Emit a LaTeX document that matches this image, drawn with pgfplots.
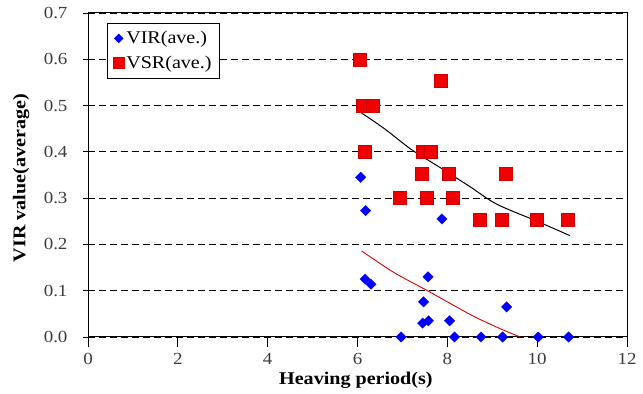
\documentclass[border=0pt]{standalone}
\usepackage{fontspec}
\setmainfont{Liberation Serif}[FakeStretch=1.12]
\usepackage{pgfplots}
\pgfplotsset{compat=1.18}
\definecolor{vir}{RGB}{0,0,255}
\definecolor{vsr}{RGB}{240,0,0}
\definecolor{ticktxt}{RGB}{60,60,60}
\begin{document}
\begin{tikzpicture}
\begin{axis}[
  scale only axis, width=539bp, height=324bp,
  xmin=0, xmax=12, ymin=0, ymax=0.7,
  xtick={0,2,4,6,8,10,12},
  ytick={0,0.1,0.2,0.3,0.4,0.5,0.6,0.7},
  yticklabels={0.0,0.1,0.2,0.3,0.4,0.5,0.6,0.7},
  /pgf/number format/assume math mode=true,
  axis line style={line width=1pt, black},
  major tick length=10bp,
  tick style={line width=0.9pt, black},
  xtick align=outside, ytick align=center,
  xtick pos=bottom, ytick pos=left,
  tick label style={font=\fontsize{17}{20}\selectfont, text=ticktxt},
  xticklabel style={yshift=-3bp},
  yticklabel style={xshift=-12bp},
  ymajorgrids,
  major grid style={dashed, black, line width=0.9pt, dash pattern=on 7bp off 4bp},
  xlabel={Heaving period(s)},
  ylabel={VIR value(average)},
  label style={font=\bfseries\fontsize{18}{21}\selectfont},
  xlabel style={at={(axis description cs:0.497,-0.135)}, anchor=center},
  ylabel style={at={(axis description cs:-0.124,0.49)}, anchor=center},
  clip=false,
  legend style={at={(axis description cs:0.035,0.969)}, anchor=north west,
    draw=black, line width=0.8pt, font=\fontsize{18}{21}\selectfont,
    inner xsep=6bp, inner ysep=6bp, row sep=7bp, cells={anchor=west}},
  legend cell align=left,
]
\addplot[forget plot, only marks, mark=square*, mark size=3.7bp, color=vir,
  mark options={rotate=45, fill=vir, draw=vir, line width=0.3pt}] coordinates {
(6.07,0.345) (6.18,0.273) (7.88,0.255) (6.17,0.125) (6.30,0.114)
(7.57,0.130) (7.47,0.076) (7.45,0.030) (7.58,0.035) (8.05,0.035)
(9.32,0.065) (6.97,0.0) (8.16,0.0) (8.75,0.0) (9.23,0.0) (10.02,0.0) (10.70,0.0)
};
\addlegendimage{only marks, mark=square*, mark size=3bp, color=vir, mark options={rotate=45, fill=vir, draw=vir}}
\addlegendentry{VIR(ave.)}
\addplot[forget plot, only marks, mark=square*, mark size=6.5bp, color=vsr,
  mark options={fill=vsr, draw=vsr!85!black, line width=0.4pt}] coordinates {
(6.06,0.60) (7.86,0.553) (6.12,0.50) (6.33,0.50)
(6.17,0.40) (7.46,0.40) (7.64,0.40)
(7.44,0.352) (8.04,0.352) (9.31,0.352)
(6.95,0.302) (7.55,0.302) (8.13,0.302)
(8.73,0.253) (9.20,0.253) (10.00,0.253) (10.69,0.253)
};
\addlegendimage{only marks, mark=square*, mark size=5.5bp, color=vsr, mark options={fill=vsr, draw=vsr!85!black}}
\addlegendentry{VSR(ave.)}
\addplot[forget plot, black, line width=1pt, smooth, no markers] coordinates {
(6.09,0.484) (6.6,0.450) (7.2,0.405) (7.84,0.366) (8.5,0.325) (9.1,0.287) (10.0,0.250) (10.73,0.219)
};
\addplot[forget plot, color=red!85!black, line width=0.9pt, smooth, no markers] coordinates {
(6.09,0.186) (6.8,0.140) (7.54,0.101) (8.0,0.076) (8.6,0.044) (9.2,0.017) (9.62,0.0)
};
\coordinate (sw) at (rel axis cs:0,0);
\coordinate (ne) at (rel axis cs:1,1);
\end{axis}
\pgfresetboundingbox
\path ([xshift=-88bp,yshift=-57bp]sw) rectangle ([xshift=16bp,yshift=13bp]ne);
\end{tikzpicture}
\end{document}
